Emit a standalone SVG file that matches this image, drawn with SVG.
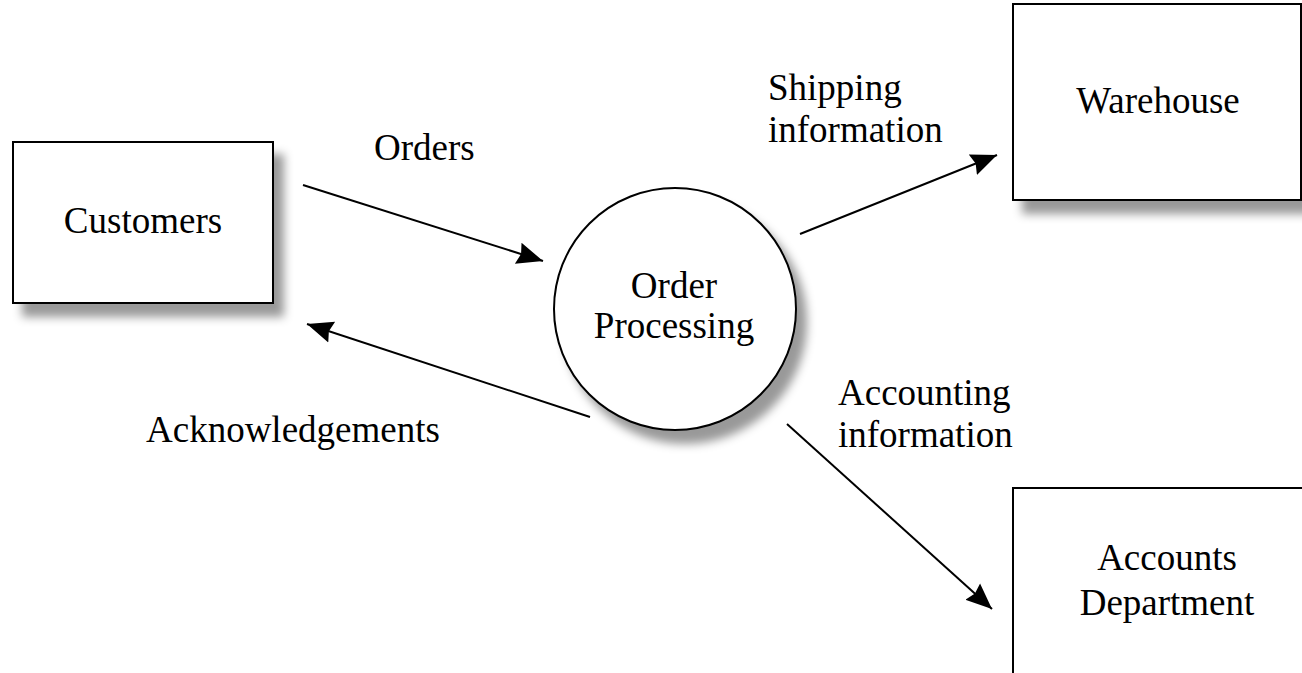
<svg xmlns="http://www.w3.org/2000/svg" width="1302" height="673" viewBox="0 0 1302 673">
  <defs>
    <filter id="shadow" x="-20%" y="-20%" width="150%" height="150%">
      <feDropShadow dx="10" dy="13" stdDeviation="5" flood-color="#000" flood-opacity="0.4"/>
    </filter>
    <marker id="arrow" markerUnits="userSpaceOnUse" markerWidth="28" markerHeight="26" refX="26" refY="13" orient="auto">
      <path d="M0,2 L26,13 L0,24 L3,13 Z" fill="#000"/>
    </marker>
    <style>
      .box { fill: #fff; stroke: #000; stroke-width: 2; filter: url(#shadow); }
      .proc { fill: #fff; stroke: #000; stroke-width: 2; filter: url(#shadow); }
      .flow { stroke: #000; stroke-width: 2; fill: none; marker-end: url(#arrow); }
      text { font-family: "Liberation Serif", "Times New Roman", serif; font-size: 37px; fill: #000; }
      .c { text-anchor: middle; }
    </style>
  </defs>

  <rect width="1302" height="673" fill="#fff"/>

  <!-- external entity: Customers -->
  <g id="customers">
    <rect class="box" x="13" y="142" width="260" height="161"/>
    <text class="c" x="143" y="233">Customers</text>
  </g>

  <!-- external entity: Warehouse -->
  <g id="warehouse">
    <rect class="box" x="1013" y="4" width="288" height="196"/>
    <text class="c" x="1158" y="113">Warehouse</text>
  </g>

  <!-- external entity: Accounts Department -->
  <g id="accounts">
    <rect class="box" x="1013" y="488" width="310" height="220"/>
    <text class="c" x="1167" y="570">Accounts</text>
    <text class="c" x="1167" y="615">Department</text>
  </g>

  <!-- process -->
  <g id="order-processing">
    <circle class="proc" cx="675" cy="309" r="121"/>
    <text class="c" x="674" y="298">Order</text>
    <text class="c" x="674" y="338">Processing</text>
  </g>

  <!-- data flows -->
  <g id="connectors">
    <line class="flow" x1="303" y1="185" x2="543" y2="261"/>
    <line class="flow" x1="590" y1="417" x2="307" y2="324"/>
    <line class="flow" x1="800" y1="234" x2="997" y2="155"/>
    <line class="flow" x1="787" y1="424" x2="992" y2="609"/>
  </g>

  <!-- flow labels -->
  <g id="labels">
    <text x="374" y="160">Orders</text>
    <text x="146" y="442">Acknowledgements</text>
    <text x="768" y="100">Shipping</text>
    <text x="768" y="142">information</text>
    <text x="838" y="405">Accounting</text>
    <text x="838" y="447">information</text>
  </g>
</svg>
